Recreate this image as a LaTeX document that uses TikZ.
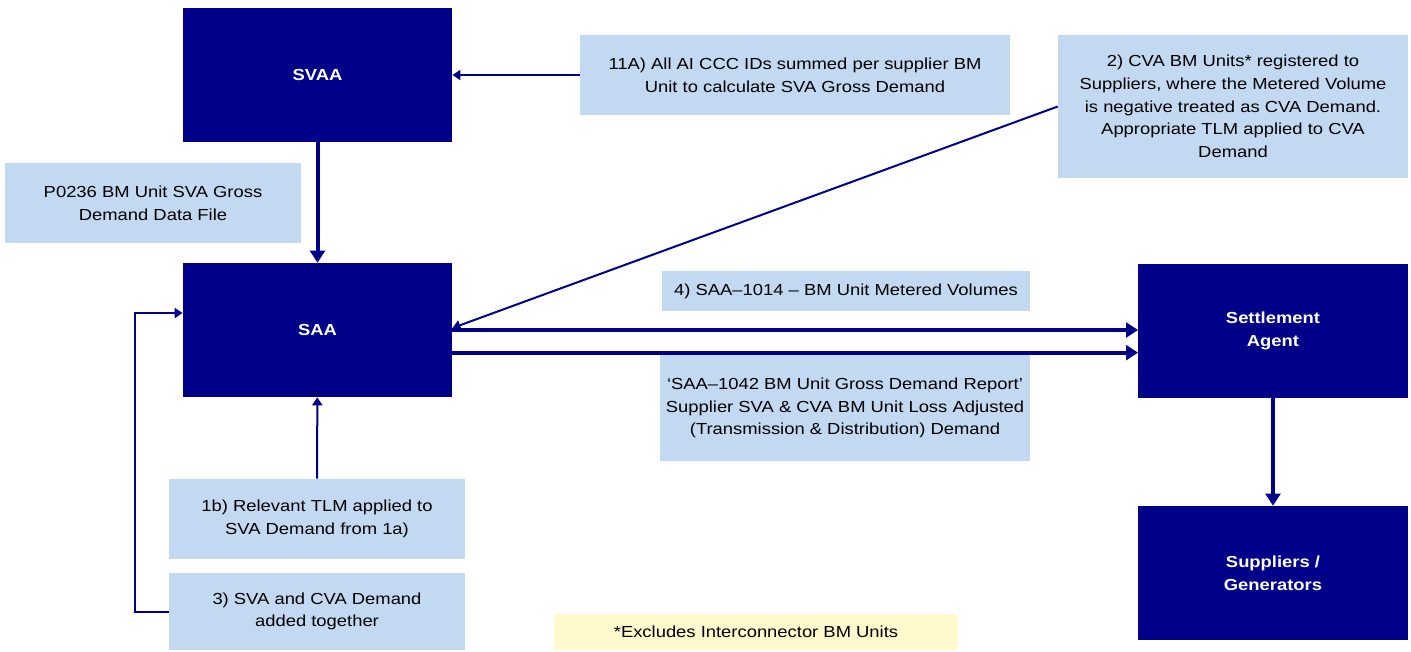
\documentclass[tikz,border=0pt]{standalone}
\usepackage{fontspec}
\setmainfont[FakeStretch=1.15]{Liberation Sans}
\usetikzlibrary{arrows.meta}

\definecolor{navy}{HTML}{000088}
\definecolor{paleblue}{HTML}{C3D8F1}
\definecolor{paleyellow}{HTML}{FFFACD}

\tikzset{
  agent/.style={fill=navy, text=white, font=\bfseries\fontsize{12}{17}\selectfont,
    align=center, minimum width=202pt, minimum height=100.5pt, inner sep=0pt},
  note/.style={fill=paleblue, font=\fontsize{12}{17}\selectfont,
    align=center, inner sep=0pt},
  flow/.style={navy, line width=3pt, -{Triangle[length=9pt,width=11pt]}},
  feed/.style={navy, line width=1.5pt, -{Triangle[length=6pt,width=7.5pt]}}
}

\begin{document}
\begin{tikzpicture}[x=0.75pt,y=-0.75pt]
	
	\useasboundingbox (0,0) rectangle (1411,651);
	
	% Agents
	\node[agent] (svaa) at (317.5,75) {SVAA};
	\node[agent] (saa) at (317.5,330) {SAA};
	\node[agent] (settle) at (1273,331) {Settlement\\Agent};
	\node[agent] (suppl) at (1273,573) {Suppliers /\\Generators};
	
	% Notes
	\node[note, minimum width=222pt, minimum height=60pt] (p0236) at (153,203)
	  {P0236 BM Unit SVA Gross\\Demand Data File};
	\node[note, minimum width=322.5pt, minimum height=60pt] (n11a) at (795,75)
	  {11A) All AI CCC IDs summed per supplier BM\\Unit to calculate SVA Gross Demand};
	\node[note, minimum width=262.5pt, minimum height=107pt] (n2) at (1233,106.5)
	  {2) CVA BM Units* registered to\\Suppliers, where the Metered Volume\\is negative treated as CVA Demand.\\Appropriate TLM applied to CVA\\Demand};
	\node[note, minimum width=276pt, minimum height=30pt] (n4) at (846,291)
	  {4) SAA--1014 -- BM Unit Metered Volumes};
	\node[note, minimum width=277.5pt, minimum height=79.5pt] (n1042) at (845,408)
	  {`SAA--1042 BM Unit Gross Demand Report'\\Supplier SVA \& CVA BM Unit Loss Adjusted\\(Transmission \& Distribution) Demand};
	\node[note, minimum width=222pt, minimum height=60pt] (n1b) at (317,519)
	  {1b) Relevant TLM applied to\\SVA Demand from 1a)};
	\node[note, minimum width=222pt, minimum height=57.75pt] (n3) at (317,611.5)
	  {3) SVA and CVA Demand\\added together};
	\node[note, fill=paleyellow, minimum width=303pt, minimum height=27pt] (excl) at (756,632)
	  {*Excludes Interconnector BM Units};
	
	% Main flows
	\draw[flow] (svaa) -- (saa);
	\draw[flow] (saa.east) -- (saa.east -| settle.west);
	\draw[flow] ([yshift=-17pt]saa.east) -- ([yshift=-17pt]saa.east -| settle.west);
	\draw[flow] (settle) -- (suppl);
	
	% Feeds
	\draw[feed] (n11a.west) -- (svaa.east);
	\draw[feed] (n2.west) -- ([yshift=1.5pt]saa.east);
	\draw[feed] (n1b) -- (saa);
	\draw[feed] (n3.west) -- ++(-34,0) |- ([yshift=12.75pt]saa.west);
	
\end{tikzpicture}
\end{document}
